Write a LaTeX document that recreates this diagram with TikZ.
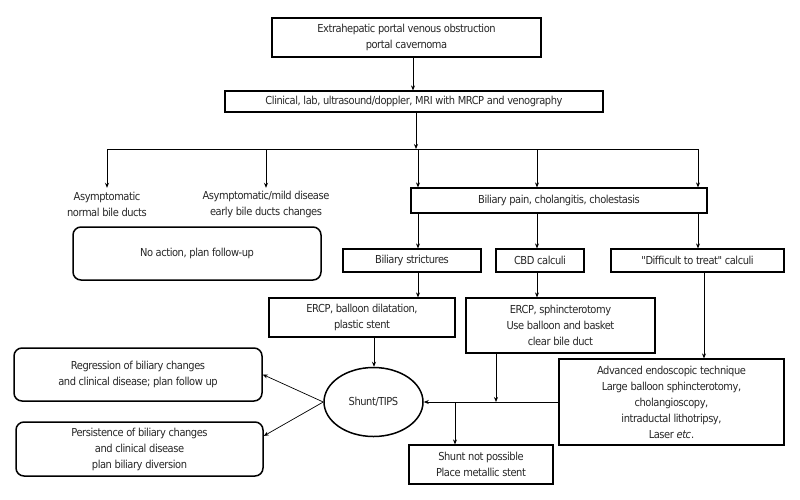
\documentclass[tikz,border=0pt]{standalone}
\usepackage{fontspec}
\setmainfont[LetterSpace=-4,Ligatures=TeXOff]{DejaVu Sans Condensed}
\usetikzlibrary{shapes.geometric,arrows.meta}
\newcommand\diagfont{\fontsize{11}{16}\selectfont}
\begin{document}
\begin{tikzpicture}[x=1pt,y=-1pt,
  box/.style={draw, line width=1.2pt, align=center, inner sep=0pt, font=\diagfont, text=black!85},
  rbox/.style={box, rounded corners=8pt, line width=1.5pt},
  txt/.style={align=center, inner sep=0pt, font=\diagfont, text=black!85},
  arr/.style={-{Stealth[length=5pt,width=4pt]}, line width=0.7pt},
  ln/.style={line width=0.7pt}]
\useasboundingbox (0,0) rectangle (800,499);
% nodes
\node[box, minimum width=269pt, minimum height=39pt] (top) at (406.5,37.5) {Extrahepatic portal venous obstruction\\portal cavernoma};
\node[box, minimum width=378pt, minimum height=21pt] (clin) at (414,101.5) {Clinical, lab, ultrasound/doppler, MRI with MRCP and venography};
\node[txt, minimum height=33pt] (a1) at (107,204.5) {Asymptomatic\\normal bile ducts};
\node[txt, minimum height=33pt] (a2) at (266,204.5) {Asymptomatic/mild disease\\early bile ducts changes};
\node[rbox, minimum width=248pt, minimum height=53pt] (noact) at (197,253.5) {No action, plan follow-up};
\node[box, minimum width=296pt, minimum height=25pt] (pain) at (559,200.5) {Biliary pain, cholangitis, cholestasis};
\node[box, minimum width=138pt, minimum height=23pt] (strict) at (412,260.5) {Biliary strictures};
\node[box, minimum width=88pt, minimum height=23pt] (cbd) at (540,260.5) {CBD calculi};
\node[box, minimum width=173pt, minimum height=23pt] (diff) at (697.5,260.5) {"Difficult to treat" calculi};
\node[box, minimum width=186pt, minimum height=39pt] (ercpa) at (362,317.5) {ERCP, balloon dilatation,\\plastic stent};
\node[box, minimum width=189pt, minimum height=55pt] (ercpb) at (560.5,325.5) {ERCP, sphincterotomy\\Use balloon and basket\\clear bile duct};
\node[ellipse, draw, line width=1.5pt, minimum width=99pt, minimum height=69pt, inner sep=0pt, font=\diagfont, text=black!85] (shunt) at (373.5,402) {Shunt/TIPS};
\node[rbox, minimum width=248pt, minimum height=53pt] (regr) at (138,374.5) {Regression of biliary changes\\and clinical disease; plan follow up};
\node[rbox, minimum width=247pt, minimum height=54pt] (pers) at (139.5,449) {Persistence of biliary changes\\and clinical disease\\plan biliary diversion};
\node[box, minimum width=225pt, minimum height=86pt] (adv) at (671.5,402) {Advanced endoscopic technique\\Large balloon sphincterotomy,\\cholangioscopy,\\intraductal lithotripsy,\\Laser \textit{etc}.};
\node[box, minimum width=144pt, minimum height=39pt] (notp) at (481,464.5) {Shunt not possible\\Place metallic stent};
% helper coordinates
\coordinate (c0) at (413,0);
\coordinate (bm) at (416,149);
\coordinate (b1) at (107,149);
\coordinate (b2) at (266,149);
\coordinate (b3) at (418,149);
\coordinate (b4) at (537,149);
\coordinate (b5) at (698,149);
\coordinate (c6) at (704,0);
\coordinate (c7) at (374,0);
\coordinate (j1) at (496,402);
\coordinate (j2) at (455,402);
% connectors
\draw[arr] (top.south -| c0) -- (clin.north -| c0);
\draw[ln] (b1) -- (b5);
\draw[arr] (clin.south -| bm) -- (bm);
\draw[arr] (b1) -- (a1.north);
\draw[arr] (b2) -- (a2.north);
\draw[arr] (b3) -- (pain.north -| b3);
\draw[arr] (b4) -- (pain.north -| b4);
\draw[arr] (b5) -- (pain.north -| b5);
\draw[arr] (pain.south -| b3) -- (strict.north -| b3);
\draw[arr] (pain.south -| b4) -- (cbd.north -| b4);
\draw[arr] (pain.south -| b5) -- (diff.north -| b5);
\draw[arr] (strict.south -| b3) -- (ercpa.north -| b3);
\draw[arr] (cbd.south -| b4) -- (ercpb.north -| b4);
\draw[arr] (diff.south -| c6) -- (adv.north -| c6);
\draw[arr] (ercpa.south -| c7) -- (shunt.north -| c7);
\draw[arr] (ercpb.south -| j1) -- (j1);
\draw[arr] (adv.west) -- (shunt.east);
\draw[arr] (j2) -- (notp.north -| j2);
\draw[arr] (shunt.west) -- (regr.east);
\draw[arr] (shunt.west) -- (pers.6);
\end{tikzpicture}
\end{document}
